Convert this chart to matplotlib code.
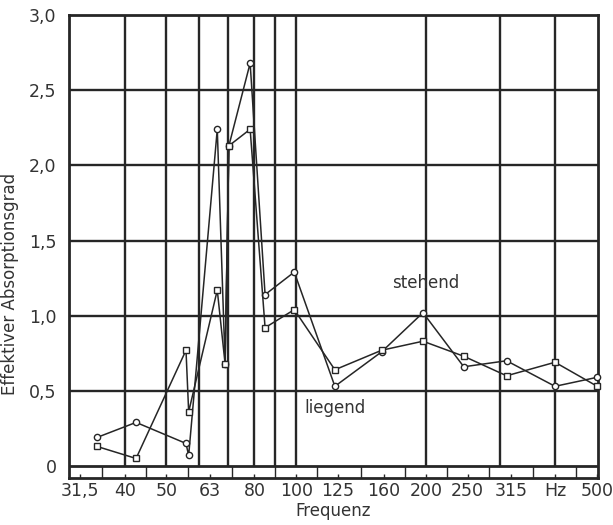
import matplotlib
matplotlib.use("Agg")
import matplotlib.pyplot as plt
import numpy as np

plt.rcParams["font.family"] = ["DejaVu Sans"]

# measured frequencies (Hz), shared by both curves
freq = [34.5, 42.5, 55.5, 56.3, 65.6, 68.4, 69.8, 78.2, 84.7, 99.0,
        123.0, 158.0, 197.0, 245.0, 308.0, 399.0, 500.0]
# curve with open circles ("stehend")
alpha_stehend = [0.19, 0.29, 0.15, 0.07, 2.24, 0.68, 2.13, 2.68, 1.14, 1.29,
                 0.53, 0.76, 1.02, 0.66, 0.70, 0.53, 0.59]
# curve with open squares ("liegend")
alpha_liegend = [0.13, 0.05, 0.77, 0.36, 1.17, 0.68, 2.13, 2.24, 0.92, 1.04,
                 0.64, 0.77, 0.83, 0.73, 0.60, 0.69, 0.53]

band_freq = [31.5, 40, 50, 63, 80, 100, 125, 160, 200, 250, 315, 400, 500]
band_labels = ["31,5", "40", "50", "63", "80", "100", "125", "160", "200",
               "250", "315", "Hz", "500"]
vgrid_freq = [40, 50, 59.4, 69.5, 80, 89.3, 100, 200, 297, 400]
y_ticks = [0, 0.5, 1.0, 1.5, 2.0, 2.5, 3.0]
y_labels = ["0", "0,5", "1,0", "1,5", "2,0", "2,5", "3,0"]

INK = "#262626"
TXT = "#333333"

fig = plt.figure(figsize=(6.13, 5.25), dpi=100)
ax = fig.add_axes([0.1126, 0.0895, 0.8629, 0.8819])

ax.set_xscale("log")
ax.set_xlim(29.7, 502)
ax.set_ylim(-0.08, 3.0)

# grid
for y in y_ticks[1:-1]:
    ax.axhline(y, color=INK, lw=1.7, zorder=1)
ax.axhline(0, color=INK, lw=2.0, zorder=1)
for f in vgrid_freq:
    ax.vlines(f, 0, 3.0, color=INK, lw=1.7, zorder=1)

# band strip below the zero line
edges = [np.sqrt(a * b) for a, b in zip(band_freq[:-1], band_freq[1:])]
ax.vlines(edges, -0.08, 0, color=INK, lw=1.0, zorder=1)

ax.plot(freq, alpha_stehend, color=INK, lw=1.1, marker="o", ms=4.5,
        mfc="white", mec=INK, mew=1.0, zorder=3, clip_on=False)
ax.plot(freq, alpha_liegend, color=INK, lw=1.1, marker="s", ms=4.5,
        mfc="white", mec=INK, mew=1.0, zorder=3, clip_on=False)

ax.text(200, 1.22, "stehend", ha="center", va="center", fontsize=12, color=TXT)
ax.text(123, 0.385, "liegend", ha="center", va="center", fontsize=12, color=TXT)

ax.set_xticks(band_freq)
ax.set_xticklabels(band_labels)
ax.xaxis.set_minor_locator(matplotlib.ticker.NullLocator())
ax.tick_params(axis="x", direction="in", length=3, width=1, pad=3,
               labelsize=12.5, colors=INK, labelcolor=TXT)
ax.set_yticks(y_ticks)
ax.set_yticklabels(y_labels)
ax.tick_params(axis="y", length=0, pad=9, labelsize=12.5, labelcolor=TXT)

for s in ax.spines.values():
    s.set_linewidth(2.0)
    s.set_color(INK)

ax.set_xlabel("Frequenz", fontsize=12, color=TXT, labelpad=1)
ax.set_ylabel("Effektiver Absorptionsgrad", fontsize=12, color=TXT)
ax.yaxis.set_label_coords(-0.094, 0.42)

fig.savefig("out.png", dpi=100)
